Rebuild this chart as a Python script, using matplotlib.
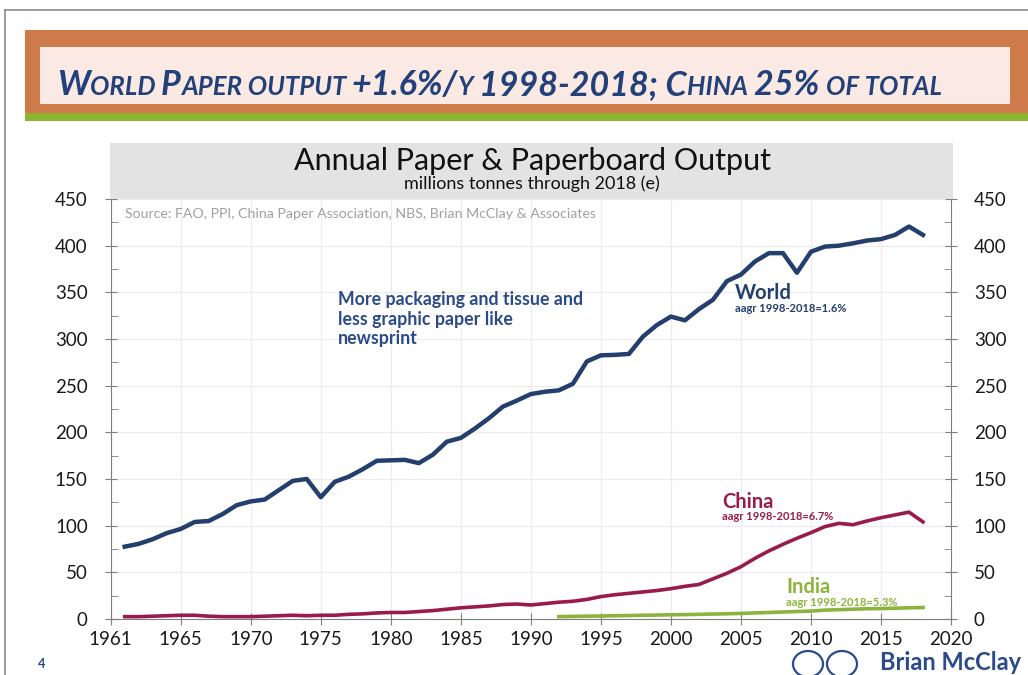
import matplotlib
matplotlib.use("Agg")
import matplotlib.pyplot as plt
import matplotlib.patches as mpatches
import numpy as np

plt.rcParams['font.family'] = ['Lato', 'DejaVu Sans']

# data (million tonnes)
world_years = list(range(1961, 2019))
world = [77.5, 80.5, 85.5, 92, 96.5, 104, 105, 112.5, 122, 126,
         128, 138, 148, 150, 130.5, 147, 152.5, 160.5, 169.5, 170,
         170.5, 167, 176, 190, 194, 204, 215, 227.5, 234, 241,
         243.5, 245, 252, 276, 282.5, 283, 284, 302.5, 315, 324,
         320, 332, 342, 362, 369, 383, 392, 392, 371, 393.5,
         399, 400, 402.5, 405.5, 407, 411.5, 420.5, 411.5]
china_years = list(range(1961, 2019))
china = [2.5, 2.5, 3, 3.5, 4, 4, 3, 2.5, 2.5, 2.5,
         3, 3.5, 4, 3.5, 4, 4, 5, 5.5, 6.5, 7,
         7, 8, 9, 10.5, 12, 13, 14, 15.5, 16, 15,
         16.5, 18, 19, 21, 24, 26, 27.5, 29, 30.5, 32.5,
         35, 37, 43, 49, 56, 65, 73, 80, 86.5, 92.5,
         99, 102.5, 101, 105, 108.5, 111.5, 114.5, 104]
india_years = list(range(1992, 2019))
india = [2.5, 2.8, 3, 3.2, 3.5, 3.7, 4, 4.2, 4.5, 4.7,
         5, 5.3, 5.6, 6, 6.5, 7, 7.5, 8, 8.5, 9.5,
         10, 10.5, 11, 11.2, 11.5, 12, 12.3]

x_ticks = [1960, 1965, 1970, 1975, 1980, 1985, 1990, 1995, 2000, 2005, 2010, 2015, 2020]
x_labels = ['1961', '1965', '1970', '1975', '1980', '1985', '1990', '1995',
            '2000', '2005', '2010', '2015', '2020']
y_ticks = list(range(0, 451, 50))

navy = '#243F6E'
crimson = '#9A1B4B'
green = '#8CB43C'
title_blue = '#22407A'

fig = plt.figure(figsize=(10.28, 6.75), dpi=100)
W, H = 1028, 675

def fx(px):
    return px / W

def fy(py):
    return 1 - py / H

# slide frame
fig.add_artist(plt.Line2D([fx(5), fx(5)], [fy(10), 0], color='#8a8a8a', lw=1.2))
fig.add_artist(plt.Line2D([fx(5), 1], [fy(10), fy(10)], color='#8a8a8a', lw=1.2))

# orange banner, green strip, pale box
fig.add_artist(mpatches.Rectangle((fx(25), fy(113)), 1 - fx(25), fy(30) - fy(113),
                                  transform=fig.transFigure, color='#CF7A4A', lw=0))
fig.add_artist(mpatches.Rectangle((fx(25), fy(121)), 1 - fx(25), fy(113) - fy(121),
                                  transform=fig.transFigure, color='#8DB42E', lw=0))
fig.add_artist(mpatches.Rectangle((fx(40), fy(104)), fx(1010) - fx(40), fy(47) - fy(104),
                                  transform=fig.transFigure, color='#FAEAE3', lw=0))

# banner title in small caps, built piece by piece
pieces = [('W', 1), ('ORLD ', 0), ('P', 1), ('APER OUTPUT ', 0), ('+1.6%/', 1), ('Y ', 0),
          ('1998-2018; C', 1), ('HINA ', 0), ('25% ', 1), ('OF TOTAL', 0)]
renderer = fig.canvas.get_renderer()
xcur = 57
for txt, big in pieces:
    t = fig.text(fx(xcur), fy(95), txt, fontsize=24.5 if big else 18.5, fontweight='bold',
                 fontstyle='italic', color=title_blue, ha='left', va='baseline')
    bb = t.get_window_extent(renderer=renderer)
    xcur += bb.width

# chart
ax = fig.add_axes([fx(110.7), fy(619), fx(951) - fx(110.7), fy(199) - fy(619)])
ax.plot(world_years, world, color=navy, lw=3.2, solid_joinstyle='round')
ax.plot(china_years, china, color=crimson, lw=2.6, solid_joinstyle='round')
ax.plot(india_years, india, color=green, lw=2.6, solid_joinstyle='round')

ax.set_xlim(1960, 2020)
ax.set_ylim(0, 450)
ax.set_xticks(x_ticks)
ax.set_xticklabels(x_labels)
ax.set_yticks(y_ticks)
ax.set_yticks(np.arange(25, 450, 50), minor=True)
ax.grid(True, which='major', color='#ececec', lw=0.9)
ax.set_axisbelow(True)
for side in ['left', 'right', 'bottom']:
    ax.spines[side].set_color('#7f7f7f')
ax.spines['top'].set_visible(False)
ax.tick_params(axis='both', which='major', direction='inout', length=9, color='#7f7f7f',
               labelsize=13.5, labelcolor='#1a1a1a', right=True, labelright=True, pad=4)
ax.tick_params(axis='y', which='minor', direction='in', length=5, color='#7f7f7f',
               right=True)
ax.tick_params(axis='y', which='major', pad=12)

# grey title band above the plot
fig.add_artist(mpatches.Rectangle((fx(110), fy(199)), fx(953) - fx(110), fy(143) - fy(199),
                                  transform=fig.transFigure, color='#E3E3E3', lw=0))
fig.text(fx(532), fy(161), 'Annual Paper & Paperboard Output', fontsize=22,
         ha='center', va='center', color='#111111')
fig.text(fx(532), fy(184), 'millions tonnes through 2018 (e)', fontsize=13,
         ha='center', va='center', color='#111111')

ax.text(fx(125), fy(214), 'Source: FAO, PPI, China Paper Association, NBS, Brian McClay & Associates',
        transform=fig.transFigure, fontsize=10.2, color='#a0a0a0', va='center')

ax.text(fx(338), fy(319), 'More packaging and tissue and\nless graphic paper like\nnewsprint',
        transform=fig.transFigure, fontsize=12.8, fontweight='bold', color='#2B4A8B',
        va='center', linespacing=1.15, ha='left')

ax.text(fx(735), fy(293), 'World', transform=fig.transFigure, fontsize=14.5,
        fontweight='bold', color=navy, va='center')
ax.text(fx(735), fy(308), 'aagr 1998-2018=1.6%', transform=fig.transFigure, fontsize=8,
        fontweight='bold', color=navy, va='center')
ax.text(fx(722), fy(502), 'China', transform=fig.transFigure, fontsize=14.5,
        fontweight='bold', color=crimson, va='center')
ax.text(fx(722), fy(517), 'aagr 1998-2018=6.7%', transform=fig.transFigure, fontsize=8,
        fontweight='bold', color=crimson, va='center')
ax.text(fx(786), fy(587), 'India', transform=fig.transFigure, fontsize=14.5,
        fontweight='bold', color=green, va='center')
ax.text(fx(786), fy(602), 'aagr 1998-2018=5.3%', transform=fig.transFigure, fontsize=8,
        fontweight='bold', color=green, va='center')

# footer
fig.text(fx(42), fy(664), '4', fontsize=9, fontweight='bold', color='#2B4A8B',
         ha='center', va='center')
for cx in [808, 842]:
    fig.add_artist(mpatches.Ellipse((fx(cx), fy(664)), fx(30), 26 / H,
                                    transform=fig.transFigure, fill=False,
                                    ec='#2B4A8B', lw=1.6))
fig.text(fx(880), fy(663), 'Brian McClay', fontsize=17, fontweight='bold',
         color='#2B4A8B', ha='left', va='center')

fig.savefig('out.png', dpi=100)
